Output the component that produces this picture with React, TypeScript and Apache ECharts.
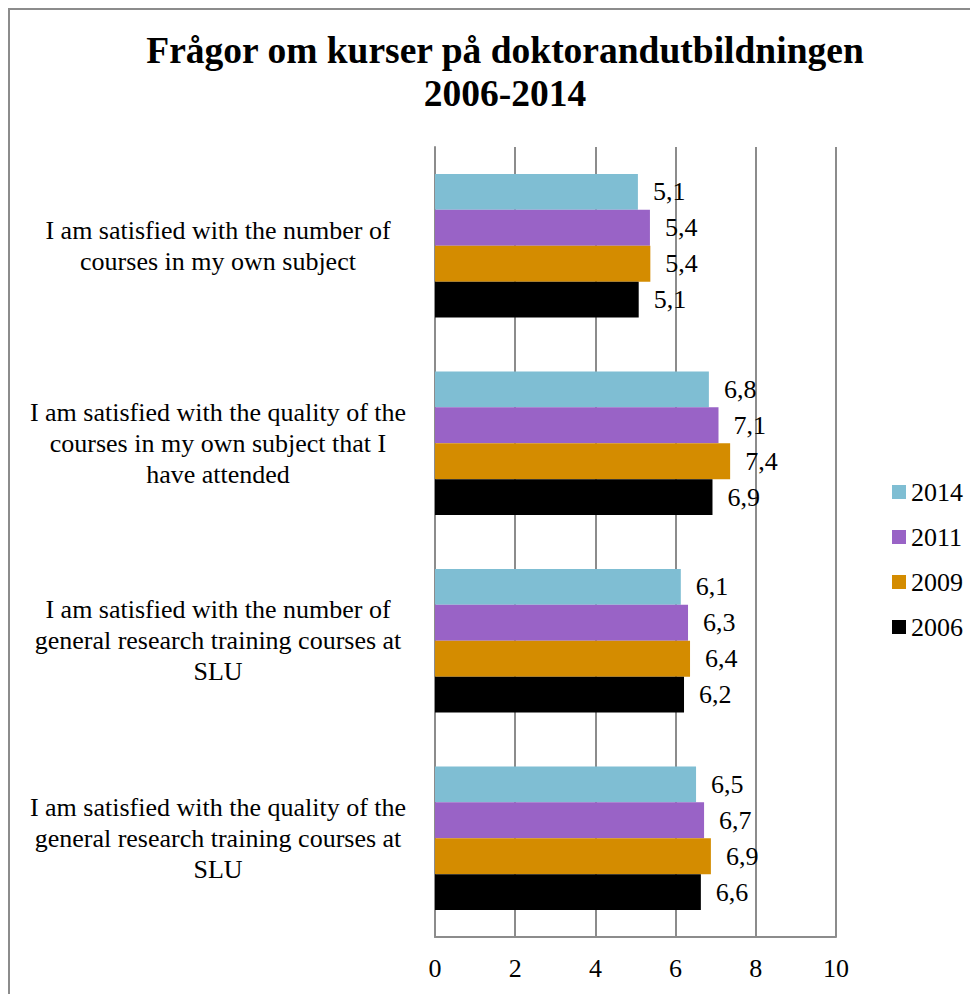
import React, { useEffect, useRef } from "react";
import * as echarts from "echarts";

const categories = [
  "I am satisfied with the number of\ncourses in my own subject",
  "I am satisfied with the quality of the\ncourses in my own subject that I\nhave attended",
  "I am satisfied with the number of\ngeneral research training courses at\nSLU",
  "I am satisfied with the quality of the\ngeneral research training courses at\nSLU",
];
const seriesNames = ["2014", "2011", "2009", "2006"];
const values2014 = [5.06, 6.83, 6.13, 6.51];
const values2011 = [5.36, 7.07, 6.31, 6.71];
const values2009 = [5.37, 7.36, 6.36, 6.88];
const values2006 = [5.08, 6.92, 6.21, 6.63];
const xTicks = [0, 2, 4, 6, 8, 10];
const colors = ["#7FBED3", "#9963C6", "#D48C00", "#000000"];

const FONT = "Liberation Serif";

export default function App() {
  const ref = useRef<HTMLDivElement>(null);
  useEffect(() => {
    if (!ref.current) return;
    const chart = echarts.init(ref.current, undefined, { renderer: "svg" });
    const allValues = [values2014, values2011, values2009, values2006];
    const txt = {
      fontFamily: FONT,
      fontSize: 26,
      fontWeight: "normal",
      fontStyle: "normal",
      color: "#000",
    };
    chart.setOption({
      animation: false,
      backgroundColor: "#ffffff",
      textStyle: { fontFamily: FONT, fontSize: 26, color: "#000" },
      title: {
        text: "Frågor om kurser på doktorandutbildningen\n2006-2014",
        left: 492,
        textAlign: "center",
        top: 16,
        textStyle: {
          fontFamily: FONT,
          fontWeight: "bold",
          fontSize: 37.5,
          lineHeight: 43,
          color: "#000",
        },
      },
      legend: {
        orient: "vertical",
        left: 879,
        top: 466,
        itemWidth: 14,
        itemHeight: 14,
        itemGap: 19,
        icon: "rect",
        data: seriesNames,
        textStyle: { ...txt },
      },
      grid: { left: 427, right: 142, top: 139, bottom: 57, containLabel: false },
      xAxis: {
        type: "value",
        min: xTicks[0],
        max: xTicks[xTicks.length - 1],
        interval: 2,
        axisLine: { show: true, lineStyle: { color: "#8c8c8c", width: 2 } },
        axisTick: { show: false },
        splitLine: { show: true, lineStyle: { color: "#8c8c8c", width: 2 } },
        axisLabel: { ...txt, margin: 18 },
      },
      yAxis: {
        type: "category",
        inverse: true,
        data: categories,
        axisLine: { show: true, lineStyle: { color: "#8c8c8c", width: 2 } },
        axisTick: { show: false },
        axisLabel: {
          ...txt,
          lineHeight: 31,
          align: "center",
          margin: 217,
        },
      },
      series: seriesNames.map((name, i) => ({
        name,
        type: "bar",
        data: allValues[i],
        barGap: "0%",
        barCategoryGap: "27.3%",
        itemStyle: { color: colors[i] },
        label: {
          show: true,
          position: "right",
          distance: 15,
          ...txt,
          formatter: (p: any) => p.value.toFixed(1).replace(".", ","),
        },
      })),
      graphic: [
        { type: "line", shape: { x1: 1, y1: 0, x2: 1, y2: 986 }, style: { stroke: "#8c8c8c", lineWidth: 2 } },
        { type: "line", shape: { x1: 0, y1: 1, x2: 970, y2: 1 }, style: { stroke: "#8c8c8c", lineWidth: 2 } },
      ],
    });
    return () => chart.dispose();
  }, []);
  return <div ref={ref} style={{ width: 970, height: 986 }} />;
}
